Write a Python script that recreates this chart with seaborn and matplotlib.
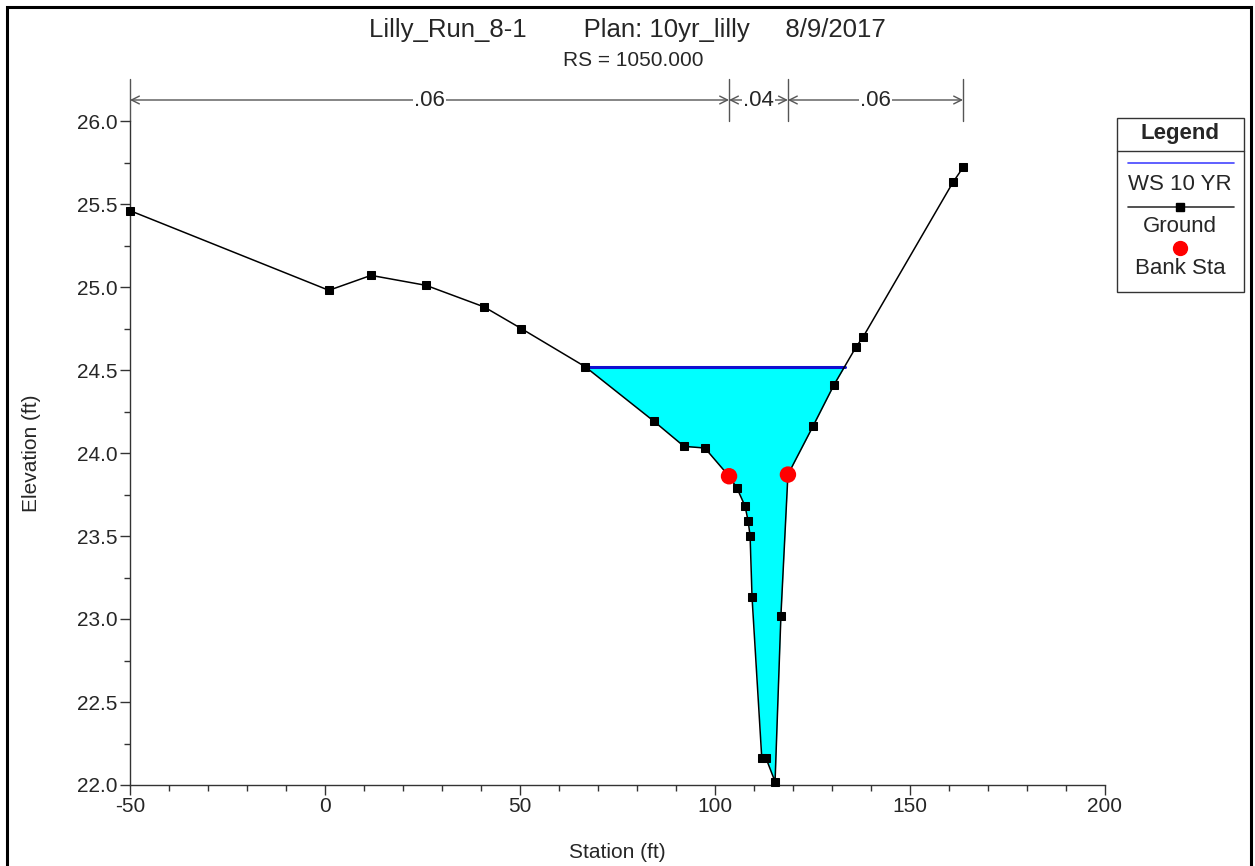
import numpy as np
import pandas as pd
import matplotlib
matplotlib.use("Agg")
import matplotlib.pyplot as plt
from matplotlib.lines import Line2D
from matplotlib.patches import Rectangle
import seaborn as sns

# ---- data ----
station = [-50.0, 1.0, 11.8, 25.9, 40.8, 50.3, 66.7, 84.4, 92.05, 97.4, 103.6,
           105.6, 107.7, 108.5, 109.0, 109.5, 112.0, 113.1, 115.4, 116.9, 118.7,
           125.1, 130.5, 136.2, 138.0, 161.0, 163.6]
elevation = [25.46, 24.98, 25.07, 25.01, 24.88, 24.75, 24.52, 24.19, 24.04, 24.03, 23.86,
             23.79, 23.68, 23.59, 23.50, 23.13, 22.16, 22.16, 22.02, 23.02, 23.87,
             24.16, 24.41, 24.64, 24.70, 25.63, 25.72]
bank_station = [103.6, 118.7]
bank_elev = [23.86, 23.87]
ws_elev = 24.52
n_breaks = [-50.0, 103.6, 118.7, 163.6]
n_values = [".06", ".04", ".06"]
title_text = "Lilly_Run_8-1        Plan: 10yr_lilly     8/9/2017"
subtitle_text = "RS = 1050.000"

ground = pd.DataFrame({"Station": station, "Elevation": elevation})
banks = pd.DataFrame({"Station": bank_station, "Elevation": bank_elev})

sns.set_style("ticks")
plt.rcParams['font.family'] = ['Liberation Sans', 'DejaVu Sans']
plt.rcParams['axes.unicode_minus'] = False

fig = plt.figure(figsize=(12.55, 8.66), dpi=100)
ax = fig.add_axes([130/1255, 1-785/866, 975/1255, 664/866])

x = np.array(station)
g = np.array(elevation)

# water fill
ax.fill_between(x, g, ws_elev, where=g <= ws_elev + 1e-9, interpolate=True,
                color="#00ffff", linewidth=0, zorder=1)

# water surface extents
wet = np.where(g <= ws_elev + 1e-9)[0]
i0, i1 = wet[0], wet[-1]
def cross(a, b):
    return x[a] + (ws_elev - g[a]) * (x[b] - x[a]) / (g[b] - g[a])
xl = x[i0] if i0 == 0 or abs(g[i0] - ws_elev) < 1e-9 else cross(i0 - 1, i0)
xr = cross(i1, i1 + 1) if i1 + 1 < len(x) else x[i1]
ax.plot([xl, xr], [ws_elev, ws_elev], color="#1010d0", lw=2.2, zorder=2)

sns.lineplot(data=ground, x="Station", y="Elevation", ax=ax, sort=False,
             color="black", lw=1.1, marker="s", markersize=6,
             markeredgecolor="black", zorder=3, clip_on=False)
sns.scatterplot(data=banks, x="Station", y="Elevation", ax=ax, color="red",
                s=140, edgecolor="none", zorder=4)

ax.set_xlim(-50, 200)
ax.set_ylim(22.0, 26.0)
ax.set_xticks(np.arange(-50, 201, 50))
ax.set_xticks(np.arange(-50, 201, 10), minor=True)
ax.set_yticks(np.arange(22.0, 26.01, 0.5))
ax.set_yticks(np.arange(22.0, 26.01, 0.25), minor=True)
ax.set_yticklabels([f"{v:.1f}" for v in np.arange(22.0, 26.01, 0.5)])
ax.tick_params(axis="both", which="major", labelsize=15, length=7, width=1,
               color="#333333", pad=2)
ax.tick_params(axis="both", which="minor", length=4.5, width=1, color="#333333")
for s in ["top", "right"]:
    ax.spines[s].set_visible(False)
for s in ["left", "bottom"]:
    ax.spines[s].set_color("#333333")
    ax.spines[s].set_linewidth(1)
ax.set_xlabel("Station (ft)", fontsize=15)
ax.set_ylabel("Elevation (ft)", fontsize=15)
ax.xaxis.set_label_coords(0.5, (785 - 843) / 664)
ax.yaxis.set_label_coords((41 - 130) / 975, 0.5)

# Manning's n annotation
ya = 26.0 + 21/166
for b in n_breaks:
    ax.plot([b, b], [26.0, 26.0 + 42/166], color="#555555", lw=1, clip_on=False)
for k, lab in enumerate(n_values):
    a, b = n_breaks[k], n_breaks[k + 1]
    ax.annotate("", xy=(a, ya), xytext=(b, ya), annotation_clip=False,
                arrowprops=dict(arrowstyle="<->", color="#555555", lw=1,
                                shrinkA=0, shrinkB=0, mutation_scale=14))
    ax.text((a + b) / 2, ya, lab, ha="center", va="center", fontsize=16,
            bbox=dict(facecolor="white", edgecolor="none", pad=1.0), clip_on=False)

# titles
fig.text(627/1255, 1-30/866, title_text, ha="center", va="center", fontsize=18.5)
fig.text(633/1255, 1-61/866, subtitle_text, ha="center", va="center", fontsize=15)

# legend box
def fx(px):
    return px / 1255
def fy(py):
    return 1 - py / 866
fig.patches.append(Rectangle((fx(1117), fy(292)), fx(1244) - fx(1117), fy(118) - fy(292),
                             transform=fig.transFigure, facecolor="white",
                             edgecolor="#333333", lw=1))
fig.lines.append(Line2D([fx(1117), fx(1244)], [fy(151), fy(151)], color="#333333", lw=1,
                        transform=fig.transFigure))
fig.text(fx(1180), fy(134), "Legend", ha="center", va="center", fontsize=16, fontweight="bold")
fig.lines.append(Line2D([fx(1128), fx(1234)], [fy(163), fy(163)], color="#4444ff", lw=1.2,
                        transform=fig.transFigure))
fig.text(fx(1180), fy(185), "WS 10 YR", ha="center", va="center", fontsize=16)
fig.lines.append(Line2D([fx(1128), fx(1234)], [fy(207), fy(207)], color="#333333", lw=1.2,
                        transform=fig.transFigure))
fig.lines.append(Line2D([fx(1180)], [fy(207)], color="black", marker="s", markersize=6,
                        linestyle="none", transform=fig.transFigure))
fig.text(fx(1180), fy(226), "Ground", ha="center", va="center", fontsize=16)
fig.lines.append(Line2D([fx(1180)], [fy(248)], color="red", marker="o", markersize=10,
                        linestyle="none", transform=fig.transFigure))
fig.text(fx(1180), fy(268), "Bank Sta", ha="center", va="center", fontsize=16)

# outer frame
fig.patches.append(Rectangle((fx(7), fy(880)), fx(1251) - fx(7), fy(7) - fy(880),
                             transform=fig.transFigure, facecolor="none",
                             edgecolor="black", lw=2.2))

fig.savefig("out.png", dpi=100)
